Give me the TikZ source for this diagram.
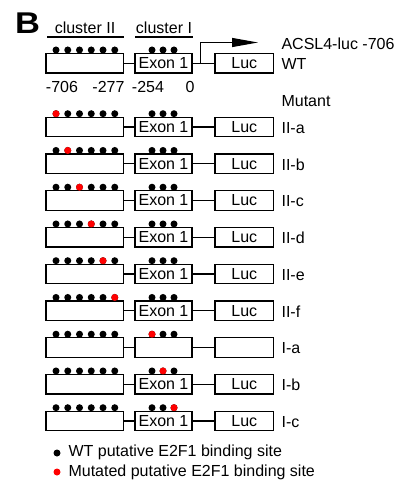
\documentclass[tikz,border=0pt]{standalone}
\usepackage{fontspec}
\setmainfont{Liberation Sans}
\usetikzlibrary{arrows.meta}

\begin{document}
\begin{tikzpicture}[x=1pt, y=-1pt, line width=1.1pt,
  font=\fontsize{16}{18}\selectfont,
  box/.style={draw, inner sep=0pt, minimum height=19.5pt},
  site/.style={circle, fill=black, inner sep=0pt, minimum size=7pt},
  lbl/.style={anchor=west, inner sep=0pt}]
\useasboundingbox (0,0) rectangle (401,486);
\node[font=\fontsize{30}{30}\selectfont\bfseries, xscale=1.15] (panel) at (27.5,23.5) {B};
% cluster headers
\node[anchor=base] (hdII) at (85,33.5) {cluster II};
\node[anchor=base] (hdI) at (164,33.5) {cluster I};
\draw (47,37) -- (124,37);
\draw (135,37) -- (193,37);
% constructs
\foreach \y/\lab/\rb/\ra/\ex/\lu [count=\i] in {63.3/WT/0/0/Exon 1/Luc,
    127/II-a/1/0/Exon 1/Luc, 163.75/II-b/2/0/Exon 1/Luc,
    200.5/II-c/3/0/Exon 1/Luc, 237.25/II-d/4/0/Exon 1/Luc,
    274/II-e/5/0/Exon 1/Luc, 310.75/II-f/6/0/Exon 1/Luc,
    347.5/I-a/0/1/{}/{}, 384.25/I-b/0/2/Exon 1/Luc,
    421/I-c/0/3/Exon 1/Luc}{
  \node[box, minimum width=77.5pt] (ii\i) at (84.75,\y) {};
  \node[box, minimum width=57pt] (ex\i) at (163.5,\y) {\ex};
  \node[box, minimum width=58.5pt] (luc\i) at (244.25,\y) {\lu};
  \draw (ii\i) -- (ex\i);
  \draw (ex\i) -- (luc\i);
  \foreach \k in {1,...,6} \node[site] at ({56+11.75*(\k-1)},\y-13.3) {};
  \foreach \k in {1,2,3} \node[site] at ({152+11*(\k-1)},\y-13.3) {};
  \ifnum\rb>0 \node[site, fill=red] at ({56+11.75*(\rb-1)},\y-13.3) {};\fi
  \ifnum\ra>0 \node[site, fill=red] at ({152+11*(\ra-1)},\y-13.3) {};\fi
  \node[lbl] (tag\i) at (281,\y+1) {\lab};
}
% transcription start
\coordinate (tss) at (200.5,63.3);
\coordinate (tip) at (258,42.5);
\draw[-{Triangle[length=26pt,width=9pt]}] (tss) |- (tip);
\node[lbl] (name) at (281,44) {ACSL4-luc -706};
\node[lbl] (mut) at (281,101.5) {Mutant};
% positions
\node[anchor=base] (p706) at (62,93) {-706};
\node[anchor=base] (p277) at (108.5,93) {-277};
\node[anchor=base] (p254) at (148,93) {-254};
\node[anchor=base] (p0) at (190,93) {0};
% legend
\node[site] (kwt) at (57,453) {};
\node[lbl] (twt) at (68,452.5) {WT putative E2F1 binding site};
\node[site, fill=red] (kmut) at (57,472) {};
\node[lbl] (tmut) at (68,472.5) {Mutated putative E2F1 binding site};
\end{tikzpicture}
\end{document}
